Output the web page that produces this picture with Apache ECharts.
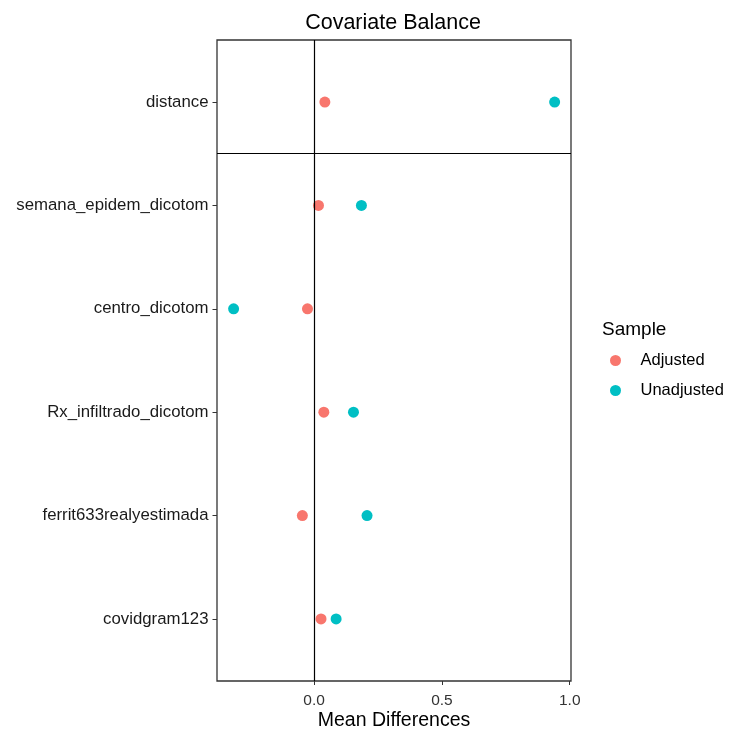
<!DOCTYPE html>
<html>
<head>
<meta charset="utf-8">
<script src="https://cdn.jsdelivr.net/npm/echarts@6/dist/echarts.min.js"></script>
<style>html,body{margin:0;padding:0;background:#fff}#chart{width:731px;height:733px}</style>
</head>
<body>
<div id="chart"></div>
<script>
// Covariates, bottom (position 1) to top (position 6)
var covariates = ["covidgram123", "ferrit633realyestimada", "Rx_infiltrado_dicotom", "centro_dicotom", "semana_epidem_dicotom", "distance"];
var adjusted   = [0.027, -0.046, 0.038, -0.026, 0.017, 0.042];
var unadjusted = [0.086, 0.207, 0.154, -0.315, 0.185, 0.941];
var xTicks = [0, 0.5, 1.0];
var xTickLabels = ["0.0", "0.5", "1.0"];

var positions = covariates.map(function (c, i) { return i + 1; });
function pairs(vals) { return vals.map(function (v, i) { return [v, positions[i]]; }); }

var FONT = "Liberation Sans, Arial, sans-serif";
var chart = echarts.init(document.getElementById('chart'), null, {renderer: 'canvas'});
chart.setOption({
  backgroundColor: '#ffffff',
  animation: false,
  title: [
    {text: 'Covariate Balance', left: 388, textAlign: 'center', top: 7,
     textStyle: {fontFamily: FONT, fontSize: 21.5, fontWeight: 'normal', color: '#000'}},
    {text: 'Sample', left: 597, top: 315,
     textStyle: {fontFamily: FONT, fontSize: 19, fontWeight: 'normal', color: '#000'}}
  ],
  legend: {
    orient: 'vertical', left: 605, top: 347,
    itemWidth: 40, itemHeight: 11, itemGap: 13,
    icon: 'circle',
    data: ['Adjusted', 'Unadjusted'],
    textStyle: {fontFamily: FONT, fontSize: 16.5, color: '#000'}
  },
  grid: {left: 217, right: 160, top: 40, bottom: 52, show: true, borderColor: '#333', borderWidth: 1.3,
         containLabel: false, outerBoundsMode: 'none'},
  xAxis: {
    type: 'value', min: -0.38, max: 1.005,
    name: 'Mean Differences', nameLocation: 'middle', nameGap: 30, nameMoveOverlap: false,
    nameTextStyle: {fontFamily: FONT, fontSize: 19.5, color: '#000'},
    splitLine: {show: false},
    axisLine: {show: false, onZero: false},
    axisTick: {show: true, length: 4, lineStyle: {color: '#333'}, customValues: xTicks},
    axisLabel: {fontFamily: FONT, fontSize: 15.5, color: '#333', margin: 12, customValues: xTicks,
      formatter: function (v) { var i = xTicks.indexOf(v); return i >= 0 ? xTickLabels[i] : ''; }}
  },
  yAxis: {
    type: 'value', min: 0.4, max: 6.6,
    splitLine: {show: false},
    axisLine: {show: false, onZero: false},
    axisTick: {show: true, length: 4.5, lineStyle: {color: '#333'}, customValues: positions},
    axisLabel: {fontFamily: FONT, fontSize: 16.8, color: '#1a1a1a', margin: 8.5, customValues: positions,
      formatter: function (v) { return covariates[Math.round(v) - 1] || ''; }}
  },
  series: [
    {name: 'Adjusted', type: 'scatter', symbolSize: 11, itemStyle: {color: '#F8766D', opacity: 1},
     data: pairs(adjusted), z: 3,
     markLine: {silent: true, symbol: 'none', label: {show: false},
       lineStyle: {color: '#000', width: 1.2, type: 'solid'},
       data: [{xAxis: 0}, {yAxis: 5.5}]}},
    {name: 'Unadjusted', type: 'scatter', symbolSize: 11, itemStyle: {color: '#00BFC4', opacity: 1},
     data: pairs(unadjusted), z: 3}
  ]
});
</script>
</body>
</html>
